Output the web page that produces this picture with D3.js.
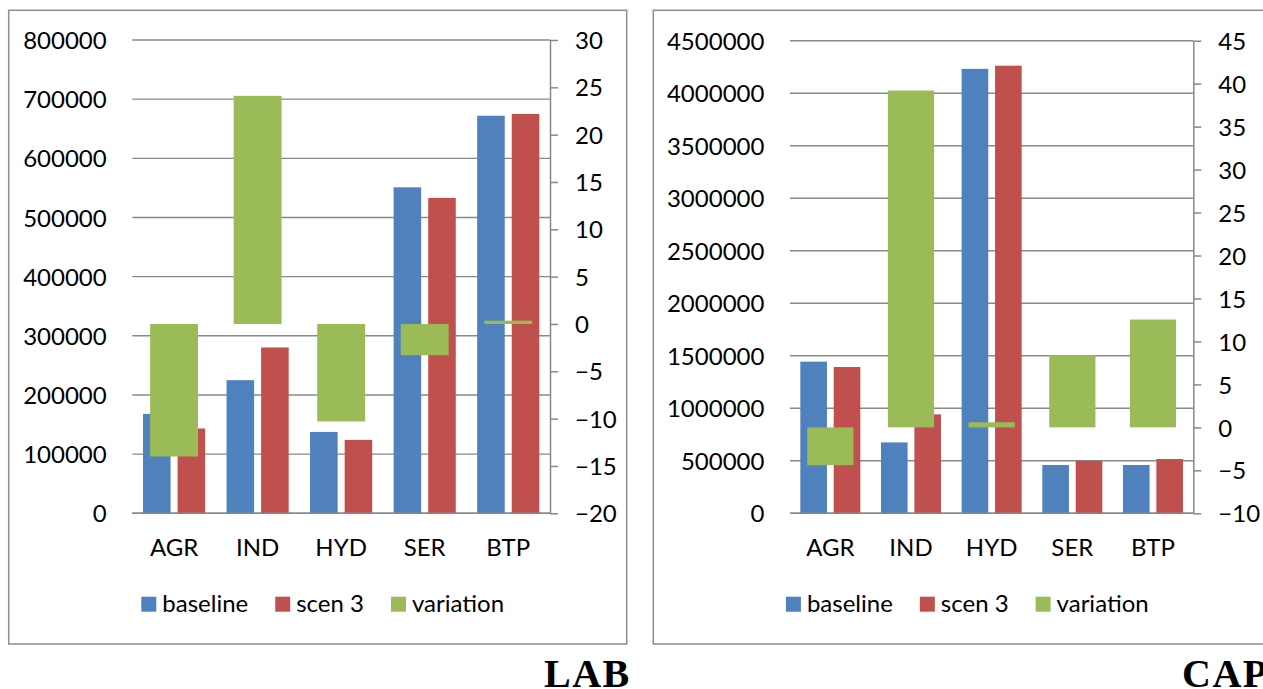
<!DOCTYPE html>
<html>
<head>
<meta charset="utf-8">
<script src="https://cdn.jsdelivr.net/npm/d3@7"></script>
<style>
  html, body { margin: 0; padding: 0; background: #ffffff; }
  svg { display: block; }
  .tick text, .cat text, .legend text { font-family: Lato, "Open Sans", sans-serif; font-size: 24px; fill: #000; }
</style>
</head>
<body>
<svg id="chart" width="1263" height="689"></svg>
<script>
// Sectors shown on both panels
const categories = ["AGR", "IND", "HYD", "SER", "BTP"];

// Labour panel
const labBaseline  = [168000, 225000, 137500, 551000, 672000];
const labScen3     = [143300, 280300, 124100, 533100, 675000];
const labVariation = [-14.0, 24.1, -10.3, -3.3, 0.35];
const labPrimaryTicks   = [0, 100000, 200000, 300000, 400000, 500000, 600000, 700000, 800000];
const labSecondaryTicks = [-20, -15, -10, -5, 0, 5, 10, 15, 20, 25, 30];

// Capital panel
const capBaseline  = [1444000, 675000, 4232000, 460000, 460000];
const capScen3     = [1393000, 942000, 4262000, 500000, 517000];
const capVariation = [-4.4, 39.2, 0.6, 8.4, 12.55];
const capPrimaryTicks   = [0, 500000, 1000000, 1500000, 2000000, 2500000, 3000000, 3500000, 4000000, 4500000];
const capSecondaryTicks = [-10, -5, 0, 5, 10, 15, 20, 25, 30, 35, 40, 45];

const seriesNames = ["baseline", "scen 3", "variation"];
const colors = { baseline: "#4F81BD", scen: "#C0504D", variation: "#9BBB59" };

const panels = [
  {
    title: "LAB",
    frame: { x: 8.7, y: 10.3, w: 618, h: 633.7 },
    plot: { l: 132.3, r: 550, t: 40, b: 513.3 },
    titleX: 544,
    baseline: labBaseline, scen: labScen3, variation: labVariation,
    primaryTicks: labPrimaryTicks, secondaryTicks: labSecondaryTicks
  },
  {
    title: "CAP",
    frame: { x: 653.3, y: 10.3, w: 618, h: 633.7 },
    plot: { l: 790, r: 1193.3, t: 40.7, b: 513.3 },
    titleX: 1182,
    baseline: capBaseline, scen: capScen3, variation: capVariation,
    primaryTicks: capPrimaryTicks, secondaryTicks: capSecondaryTicks
  }
];

const svg = d3.select("#chart");
const gridColor = "#898989";

panels.forEach(p => {
  const g = svg.append("g");

  // outer chart frame
  g.append("rect")
    .attr("x", p.frame.x).attr("y", p.frame.y)
    .attr("width", p.frame.w).attr("height", p.frame.h)
    .attr("fill", "#fff").attr("stroke", "#8c8c8c").attr("stroke-width", 1.5);

  const x = d3.scaleBand().domain(categories).range([p.plot.l, p.plot.r]).padding(0);
  const y = d3.scaleLinear()
    .domain(d3.extent(p.primaryTicks))
    .range([p.plot.b, p.plot.t]);
  const y2 = d3.scaleLinear()
    .domain(d3.extent(p.secondaryTicks))
    .range([p.plot.b, p.plot.t]);

  // horizontal gridlines on the primary axis
  g.append("g").selectAll("line")
    .data(p.primaryTicks)
    .join("line")
    .attr("x1", p.plot.l).attr("x2", p.plot.r)
    .attr("y1", d => y(d)).attr("y2", d => y(d))
    .attr("stroke", gridColor).attr("stroke-width", 1.4);

  const bw = x.bandwidth() * 0.33;
  const gap = x.bandwidth() * 0.084;
  const gw = x.bandwidth() * 0.573;
  const cx = c => x(c) + x.bandwidth() / 2;

  // baseline bars
  g.append("g").selectAll("rect")
    .data(categories.map((c, i) => ({ c, v: p.baseline[i] })))
    .join("rect")
    .attr("x", d => cx(d.c) - gap / 2 - bw)
    .attr("width", bw)
    .attr("y", d => y(d.v))
    .attr("height", d => y(0) - y(d.v))
    .attr("fill", colors.baseline);

  // scenario 3 bars
  g.append("g").selectAll("rect")
    .data(categories.map((c, i) => ({ c, v: p.scen[i] })))
    .join("rect")
    .attr("x", d => cx(d.c) + gap / 2)
    .attr("width", bw)
    .attr("y", d => y(d.v))
    .attr("height", d => y(0) - y(d.v))
    .attr("fill", colors.scen);

  // percentage variation on the secondary axis, drawn on top
  g.append("g").selectAll("rect")
    .data(categories.map((c, i) => ({ c, v: p.variation[i] })))
    .join("rect")
    .attr("x", d => cx(d.c) - gw / 2)
    .attr("width", gw)
    .attr("y", d => Math.min(y2(d.v), y2(0)))
    .attr("height", d => Math.abs(y2(0) - y2(d.v)))
    .attr("fill", colors.variation);

  // category baseline
  g.append("line")
    .attr("x1", p.plot.l).attr("x2", p.plot.r)
    .attr("y1", p.plot.b).attr("y2", p.plot.b)
    .attr("stroke", gridColor).attr("stroke-width", 1.6);

  // primary axis labels
  const left = g.append("g")
    .attr("transform", `translate(${p.plot.l},0)`)
    .call(d3.axisLeft(y).tickValues(p.primaryTicks).tickSize(0).tickPadding(25.6).tickFormat(d3.format("d")));
  left.select(".domain").remove();
  left.selectAll("text").attr("dy", "0.36em").attr("font-family", null).attr("font-size", null);

  // secondary axis with outward ticks
  const right = g.append("g")
    .attr("transform", `translate(${p.plot.r},0)`)
    .call(d3.axisRight(y2).tickValues(p.secondaryTicks).tickSize(8).tickSizeOuter(0).tickPadding(17).tickFormat(d3.format("d")));
  right.select(".domain").attr("stroke", gridColor).attr("stroke-width", 1.5);
  right.selectAll(".tick line").attr("stroke", gridColor).attr("stroke-width", 1.5);
  right.selectAll("text").attr("dy", "0.36em").attr("font-family", null).attr("font-size", null);

  // category labels
  const bottom = g.append("g")
    .attr("class", "cat")
    .attr("transform", `translate(0,${p.plot.b})`)
    .call(d3.axisBottom(x).tickSize(0).tickPadding(26));
  bottom.select(".domain").remove();
  bottom.selectAll("text").attr("font-family", null).attr("font-size", null);

  // legend, centred in the frame
  const legend = g.append("g").attr("class", "legend");
  const keys = [colors.baseline, colors.scen, colors.variation];
  let lx = 0;
  seriesNames.forEach((name, i) => {
    const item = legend.append("g");
    item.append("rect").attr("x", 0).attr("y", -15).attr("width", 15).attr("height", 15).attr("fill", keys[i]);
    const t = item.append("text").attr("x", 21).attr("y", 0).text(name);
    const w = 21 + t.node().getComputedTextLength();
    item.attr("transform", `translate(${lx},0)`);
    lx += w + 27;
  });
  const legendW = lx - 27;
  const legendCenter = p.frame.x + 314;
  legend.attr("transform", `translate(${legendCenter - legendW / 2},611.7)`);

  // panel title below the frame
  svg.append("text")
    .attr("x", p.titleX).attr("y", 687)
    .attr("font-family", "'Liberation Serif', 'DejaVu Serif', serif")
    .attr("font-weight", "bold")
    .attr("font-size", 40)
    .attr("letter-spacing", 1.5)
    .attr("fill", "#000")
    .text(p.title);
});
</script>
</body>
</html>
